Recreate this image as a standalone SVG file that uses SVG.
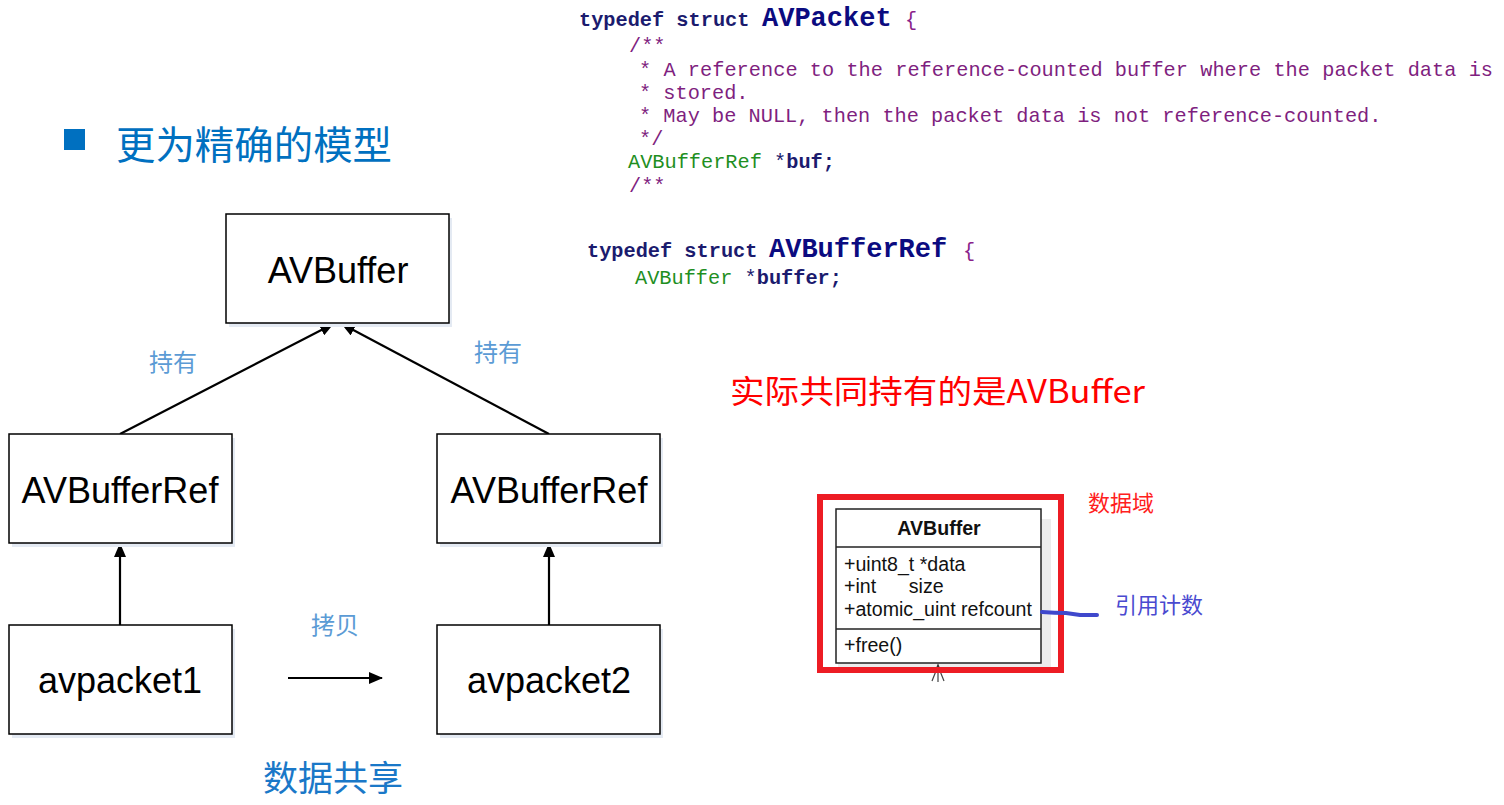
<svg xmlns="http://www.w3.org/2000/svg" width="1504" height="805" viewBox="0 0 1504 805">
<style>
.box{fill:#ffffff;stroke:#000000;stroke-width:1.5}
.shadow{fill:#e4eaf3}
.node{font-family:"Liberation Sans",Arial,sans-serif;font-size:36px;fill:#000000;text-anchor:middle}
.lbl{font-family:"Noto Sans CJK SC",sans-serif;font-size:24px;fill:#5b9bd5;text-anchor:middle}
.conn{stroke:#000000;stroke-width:2.2;fill:none}
.code{font-family:"Liberation Mono","DejaVu Sans Mono",monospace;font-size:20.3px}
.kw{fill:#1b1b6e;font-weight:bold}
.big{font-size:27px;font-weight:bold;fill:#0b0b80}
.brace{fill:#8a1f8a}
.cmt{fill:#7f1f7f}
.typ{fill:#1f8f1f}
.uml{font-family:"Liberation Sans",Arial,sans-serif;font-size:19.6px;fill:#111111}
</style>
<defs>
<marker id="ah" viewBox="0 0 14 12" refX="13" refY="6" markerWidth="14" markerHeight="12" markerUnits="userSpaceOnUse" orient="auto">
<path d="M0,0 L14,6 L0,12 Z" fill="#000000"/>
</marker>
</defs>

<g id="title">
<rect x="64" y="129" width="21" height="21" fill="#0070c0"/>
<text x="116" y="159" font-family="Noto Sans CJK SC,sans-serif" font-size="39" fill="#0070c0" textLength="276" lengthAdjust="spacingAndGlyphs">更为精确的模型</text>
</g>

<g id="code-avpacket" class="code">
<text x="579" y="26"><tspan class="kw">typedef struct </tspan><tspan class="big" x="762">AVPacket</tspan><tspan class="brace" x="905">{</tspan></text>
<text x="629" y="52" class="cmt">/**</text>
<text x="639" y="76" class="cmt" textLength="854">* A reference to the reference-counted buffer where the packet data is</text>
<text x="639" y="99" class="cmt">* stored.</text>
<text x="639" y="122" class="cmt">* May be NULL, then the packet data is not reference-counted.</text>
<text x="639" y="145" class="cmt">*/</text>
<text x="628" y="168"><tspan class="typ">AVBufferRef</tspan><tspan fill="#1b1b6e"> *</tspan><tspan class="kw">buf;</tspan></text>
<text x="629" y="192" class="cmt">/**</text>
</g>

<g id="code-avbufferref" class="code">
<text x="587" y="257"><tspan class="kw">typedef struct </tspan><tspan class="big" x="769">AVBufferRef</tspan><tspan class="brace" x="963">{</tspan></text>
<text x="635" y="284"><tspan class="typ">AVBuffer</tspan><tspan fill="#1b1b6e"> *</tspan><tspan class="kw">buffer;</tspan></text>
</g>

<g id="note-red">
<text x="730" y="403" font-family="Noto Sans CJK SC,sans-serif" font-size="32" fill="#ff0000" textLength="415" lengthAdjust="spacingAndGlyphs">实际共同持有的是AVBuffer</text>
</g>

<g id="connectors">
<line class="conn" x1="120" y1="434" x2="333" y2="324" marker-end="url(#ah)"/>
<line class="conn" x1="549" y1="434" x2="342" y2="324" marker-end="url(#ah)"/>
<line class="conn" x1="120" y1="625" x2="120" y2="544" marker-end="url(#ah)"/>
<line class="conn" x1="549" y1="625" x2="549" y2="544" marker-end="url(#ah)"/>
<line class="conn" x1="288" y1="678" x2="382" y2="678" marker-end="url(#ah)"/>
</g>

<g id="labels">
<text class="lbl" x="173" y="371">持有</text>
<text class="lbl" x="498" y="361">持有</text>
<text class="lbl" x="335" y="634">拷贝</text>
<text x="333" y="791" font-family="Noto Sans CJK SC,sans-serif" font-size="35" fill="#1a78c8" text-anchor="middle">数据共享</text>
</g>

<g id="node-avbuffer">
<rect class="shadow" x="229" y="218" width="223" height="109"/>
<rect class="box" x="226" y="214" width="223" height="109"/>
<text class="node" x="338" y="283">AVBuffer</text>
</g>
<g id="node-avbufferref1">
<rect class="shadow" x="12" y="438" width="223" height="109"/>
<rect class="box" x="9" y="434" width="223" height="109"/>
<text class="node" x="120" y="503">AVBufferRef</text>
</g>
<g id="node-avbufferref2">
<rect class="shadow" x="440" y="438" width="223" height="109"/>
<rect class="box" x="437" y="434" width="223" height="109"/>
<text class="node" x="549" y="503">AVBufferRef</text>
</g>
<g id="node-avpacket1">
<rect class="shadow" x="12" y="629" width="223" height="109"/>
<rect class="box" x="9" y="625" width="223" height="109"/>
<text class="node" x="120" y="693">avpacket1</text>
</g>
<g id="node-avpacket2">
<rect class="shadow" x="440" y="629" width="223" height="109"/>
<rect class="box" x="437" y="625" width="223" height="109"/>
<text class="node" x="549" y="693">avpacket2</text>
</g>

<g id="uml-avbuffer">
<rect x="1041" y="519" width="10" height="146" fill="#ececec"/>
<rect x="838" y="663" width="213" height="4" fill="#ececec"/>
<rect x="836" y="509" width="205" height="154" fill="#ffffff" stroke="#222222" stroke-width="1.5"/>
<line x1="836" y1="547" x2="1041" y2="547" stroke="#222222" stroke-width="1.5"/>
<line x1="836" y1="629" x2="1041" y2="629" stroke="#222222" stroke-width="1.5"/>
<text class="uml" x="939" y="535" text-anchor="middle" font-weight="bold">AVBuffer</text>
<text class="uml" x="844" y="571">+uint8_t *data</text>
<text class="uml" x="844" y="593" xml:space="preserve">+int      size</text>
<text class="uml" x="844" y="616">+atomic_uint refcount</text>
<text class="uml" x="844" y="652">+free()</text>
<path d="M938,663 L935,671 L941,671 Z" fill="#333333"/>
<path d="M936,671 L932,681 M940,671 L944,681 M938,671 L938,682" stroke="#444444" stroke-width="1.2" fill="none"/>
<rect x="820" y="497" width="241" height="173" fill="none" stroke="#ed1c24" stroke-width="6"/>
<text x="1088" y="511" font-family="Noto Sans CJK SC,sans-serif" font-size="22" fill="#ff2020">数据域</text>
</g>

<g id="refcount-note">
<path d="M1042,612 Q1055,613 1066,613 L1080,615 L1097,615" stroke="#3f48cc" stroke-width="4" fill="none" stroke-linecap="round"/>
<text x="1115" y="613" font-family="Noto Sans CJK SC,sans-serif" font-size="22" fill="#4a4ad0">引用计数</text>
</g>
</svg>
